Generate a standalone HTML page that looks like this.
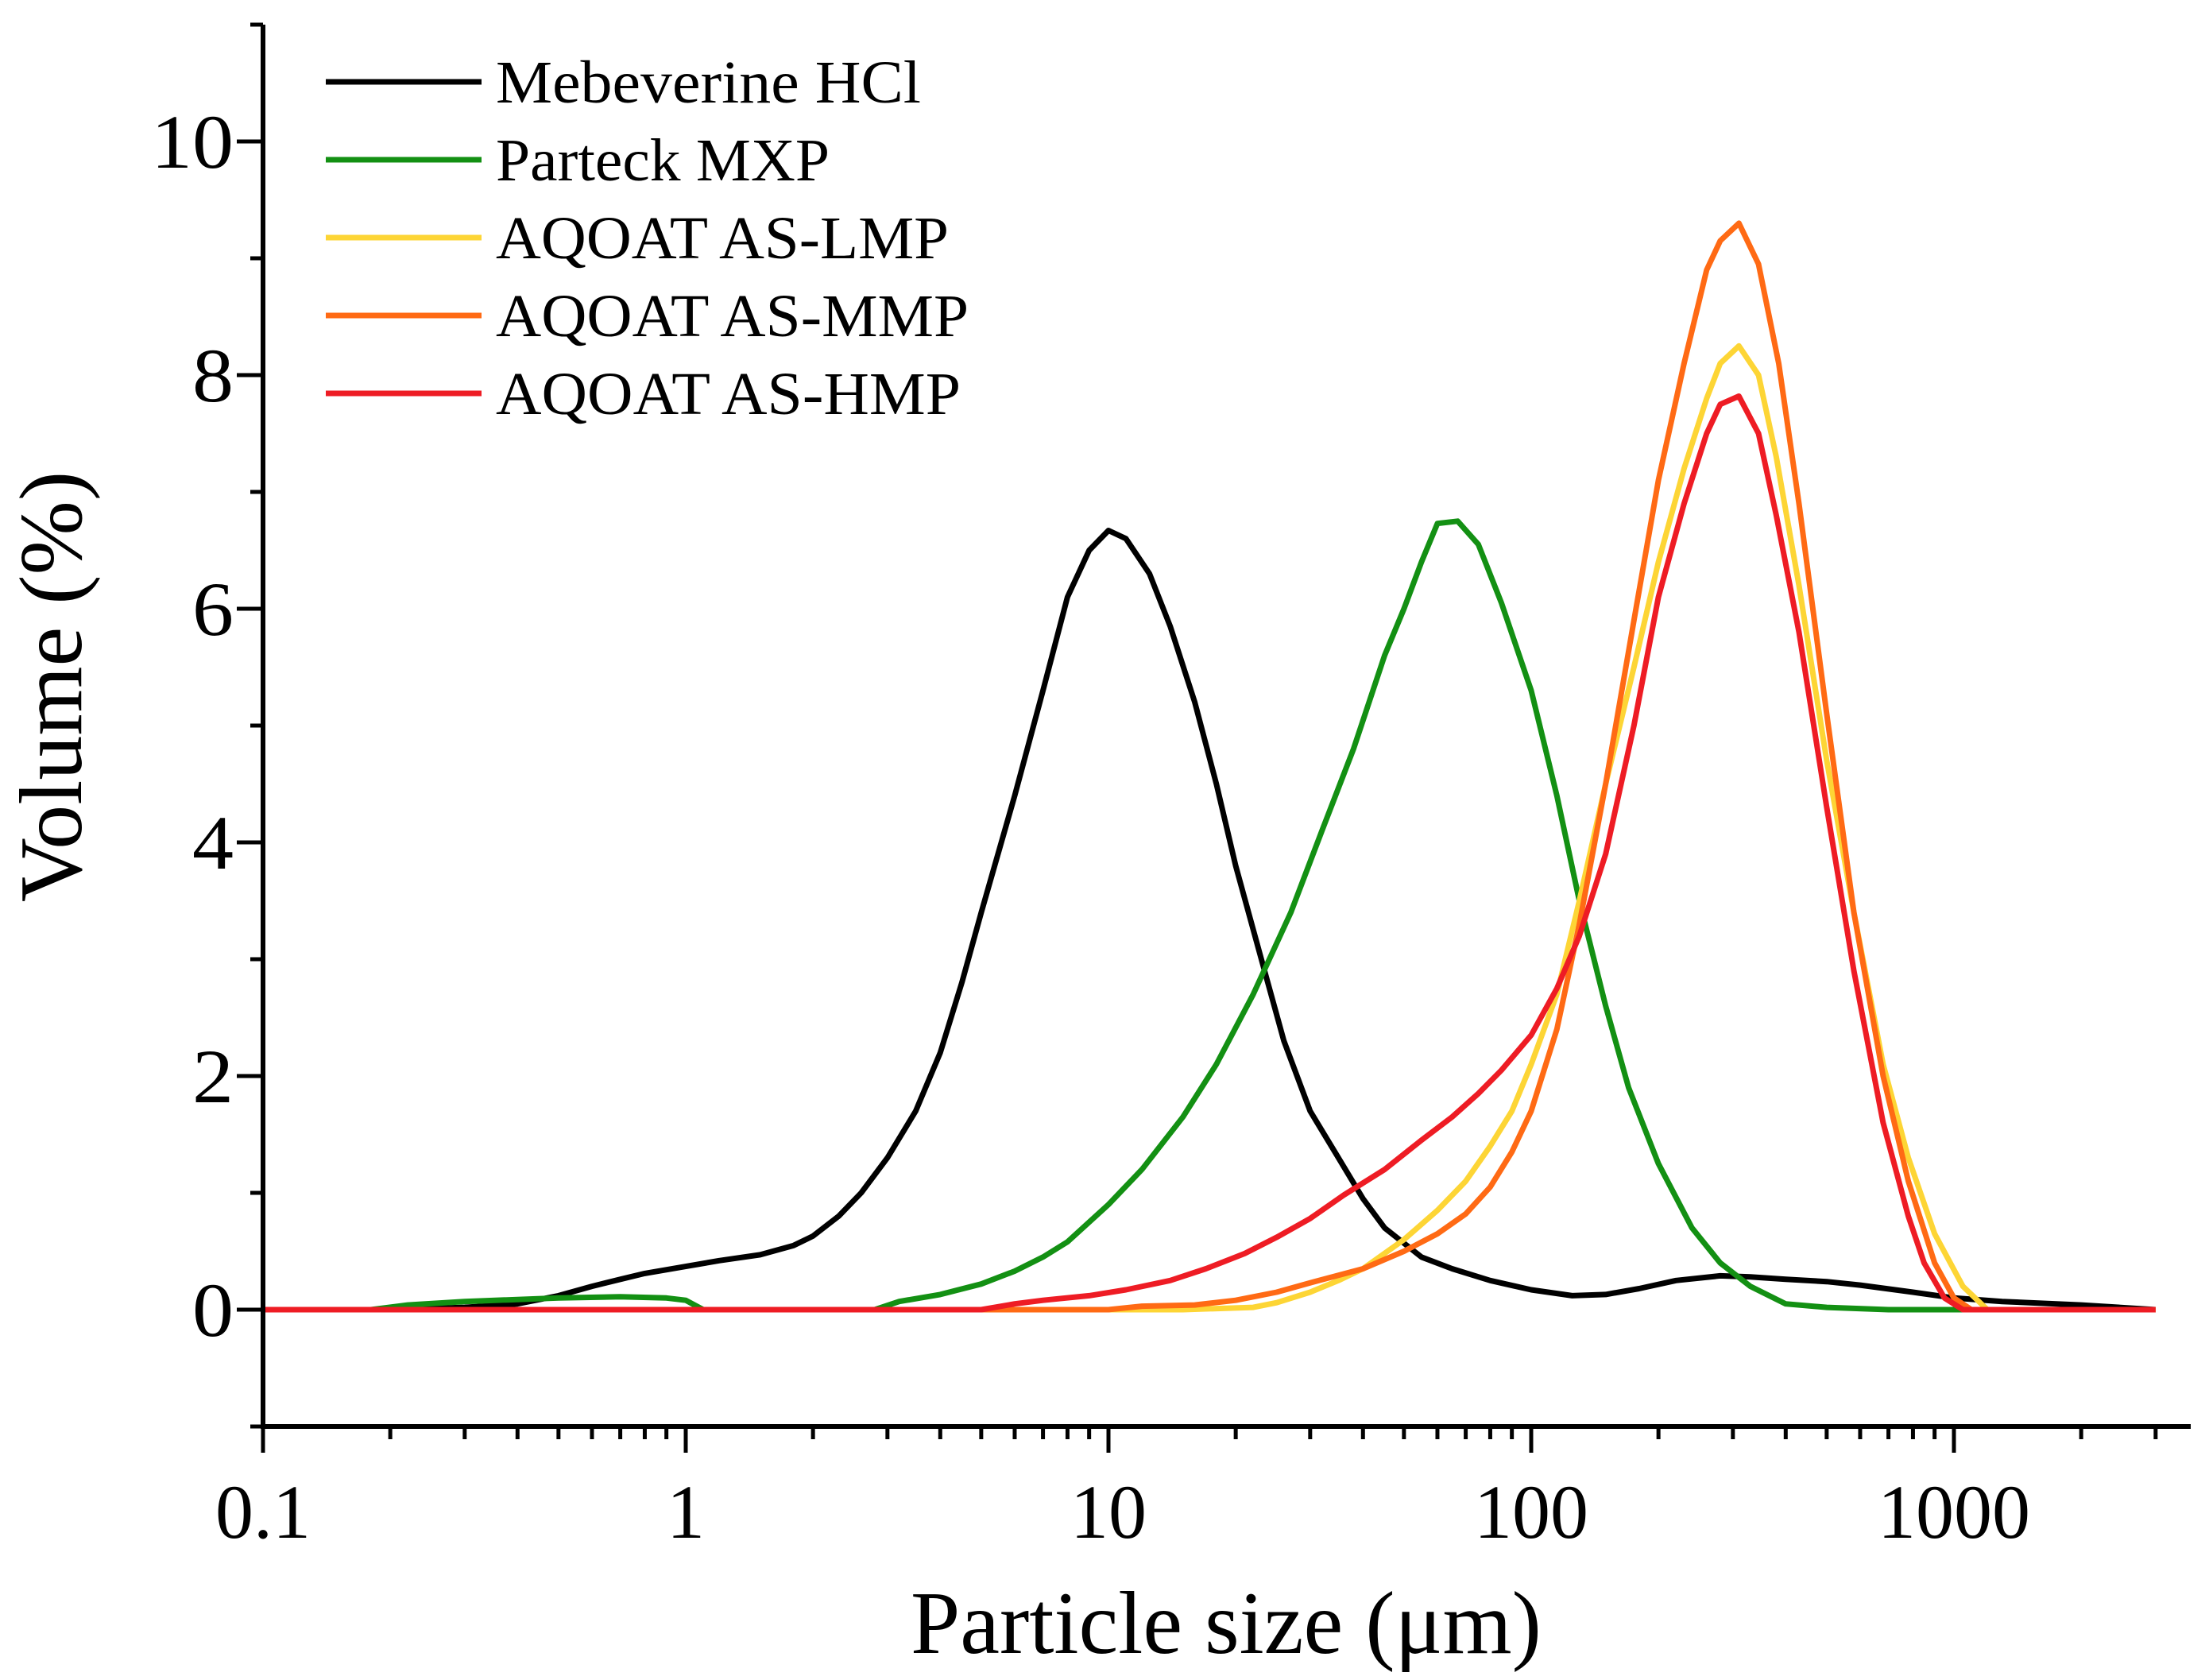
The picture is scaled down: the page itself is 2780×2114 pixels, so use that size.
<!DOCTYPE html>
<html><head><meta charset="utf-8"><style>
html,body{margin:0;padding:0;background:#fff}
svg{display:block}
text{font-family:"Liberation Serif",serif;fill:#000}
</style></head><body>
<svg id="chart" width="2780" height="2114" viewBox="0 0 2780 2114">
<g id="marks"></g>
<g id="axes"></g>
<g id="legend"></g>
</svg>
<script>
const seriesNames = ["Mebeverine HCl","Parteck MXP","AQOAT AS-LMP","AQOAT AS-MMP","AQOAT AS-HMP"];
const seriesColors = ["#000000","#139013","#fdd535","#ff6a14","#ee1c24"];
const xTickLabels = ["0.1","1","10","100","1000"];
const yTickLabels = ["0","2","4","6","8","10"];
const mebX = [0.1,0.2,0.3,0.4,0.5,0.6,0.7,0.8,1,1.2,1.5,1.8,2,2.3,2.6,3,3.5,4,4.5,5,6,7,8,9,10,11,12.5,14,16,18,20,23,26,30,35,40,45,55,65,80,100,125,150,180,220,280,330,400,500,600,800,1000,1300,2000,3000];
const mebY = [0,0,0.02,0.05,0.12,0.2,0.26,0.31,0.37,0.42,0.47,0.55,0.63,0.8,1.0,1.3,1.7,2.2,2.8,3.4,4.4,5.3,6.1,6.5,6.67,6.6,6.3,5.85,5.2,4.5,3.8,3.0,2.3,1.7,1.3,0.95,0.7,0.45,0.35,0.25,0.17,0.12,0.13,0.18,0.25,0.29,0.28,0.26,0.24,0.21,0.15,0.1,0.07,0.04,0];
const parX = [0.1,0.18,0.22,0.3,0.5,0.7,0.9,1.0,1.1,2.8,3.2,4,5,6,7,8,10,12,15,18,22,27,32,38,45,50,55,60,67,75,85,100,115,130,150,170,200,240,280,330,400,500,700,3000];
const parY = [0,0,0.04,0.07,0.1,0.11,0.1,0.08,0,0,0.07,0.13,0.22,0.33,0.45,0.58,0.9,1.2,1.65,2.1,2.7,3.4,4.1,4.8,5.6,6.0,6.4,6.73,6.75,6.55,6.05,5.3,4.4,3.5,2.6,1.9,1.25,0.7,0.4,0.2,0.05,0.02,0,0];
const lmpX = [0.1,15,22,25,30,35,40,50,60,70,80,90,100,115,130,150,175,200,230,260,280,310,345,380,430,500,580,680,780,900,1050,1200,3000];
const lmpY = [0,0,0.02,0.06,0.15,0.25,0.35,0.6,0.85,1.1,1.4,1.7,2.1,2.7,3.5,4.5,5.5,6.4,7.2,7.8,8.1,8.25,8.0,7.3,6.2,4.7,3.4,2.1,1.3,0.65,0.2,0,0];
const mmpX = [0.1,10,12,16,20,25,30,40,50,60,70,80,90,100,115,130,150,175,200,230,260,280,310,345,385,430,500,580,680,780,900,1000,1100,3000];
const mmpY = [0,0,0.03,0.04,0.08,0.15,0.23,0.35,0.5,0.65,0.82,1.05,1.35,1.7,2.4,3.3,4.5,5.9,7.1,8.1,8.9,9.15,9.3,8.95,8.1,6.9,5.1,3.4,2.0,1.1,0.4,0.1,0,0];
const hmpX = [0.1,5,6,7,9,11,14,17,21,25,30,36,45,55,65,75,85,100,115,130,150,175,200,230,260,280,310,345,380,430,500,580,680,780,850,950,1050,3000];
const hmpY = [0,0,0.05,0.08,0.12,0.17,0.25,0.35,0.48,0.62,0.78,0.98,1.2,1.45,1.65,1.85,2.05,2.35,2.75,3.2,3.9,5.0,6.1,6.9,7.5,7.75,7.82,7.5,6.8,5.8,4.3,2.9,1.6,0.8,0.4,0.1,0,0];
const allX = [mebX,parX,lmpX,mmpX,hmpX];
const allY = [mebY,parY,lmpY,mmpY,hmpY];

const NS="http://www.w3.org/2000/svg";
const X0=331,DEC=532,Y0=1648,UNIT=147,LEFT=331,RIGHT=2757,TOP=31,BOTTOM=1795;
function sx(v){return X0+(Math.log10(v)+1)*DEC;}
function sy(v){return Y0-v*UNIT;}
function mk(tag,attrs,parent){const e=document.createElementNS(NS,tag);for(const k in attrs)e.setAttribute(k,attrs[k]);parent.appendChild(e);return e;}
const marks=document.getElementById('marks'),axes=document.getElementById('axes'),legend=document.getElementById('legend');

allX.forEach((xs,i)=>{
  const d=xs.map((x,j)=>(j?'L':'M')+sx(x).toFixed(1)+' '+sy(allY[i][j]).toFixed(1)).join(' ');
  const p=mk('path',{d:d,fill:'none',stroke:seriesColors[i],'stroke-width':7,'stroke-linejoin':'round'},marks);
  
  
});

const ax=mk('path',{d:`M${LEFT} ${TOP} L${LEFT} ${BOTTOM+3} M${LEFT-3} ${BOTTOM} L${RIGHT} ${BOTTOM}`,stroke:'#000','stroke-width':6,fill:'none'},axes);



let tk='';
for(let e=-1;e<=3;e++){
  const base=Math.pow(10,e);
  tk+=`M${sx(base)} ${BOTTOM} L${sx(base)} ${BOTTOM+33} `;
  for(let m=2;m<=9;m++){const v=m*base;if(sx(v)<=RIGHT)tk+=`M${sx(v)} ${BOTTOM} L${sx(v)} ${BOTTOM+16} `;}
}
for(let v=-1;v<=11;v++){
  const len=(v%2===0)?33:16;
  tk+=`M${LEFT} ${sy(v)} L${LEFT-len} ${sy(v)} `;
}
const ticks=mk('path',{d:tk,stroke:'#000','stroke-width':5,fill:'none'},axes);



xTickLabels.forEach((t,i)=>{
  const el=mk('text',{x:sx(Math.pow(10,i-1)),y:1935,'font-size':96,'text-anchor':'middle'},axes);
  el.textContent=t;
  
  
});
yTickLabels.forEach((t,i)=>{
  const el=mk('text',{x:294,y:sy(i*2)+33,'font-size':96,'text-anchor':'end','textLength':t.length*52,'lengthAdjust':'spacingAndGlyphs'},axes);
  el.textContent=t;
  
  
});
const xt=mk('text',{x:1543,y:2080,'font-size':112,'text-anchor':'middle'},axes);
xt.textContent='Particle size (\u03bcm)';


const yt=mk('text',{x:0,y:0,'font-size':112,'text-anchor':'middle',transform:'translate(102 864) rotate(-90)'},axes);
yt.textContent='Volume (%)';



const legendLens=[535,420,570,595,585];
seriesNames.forEach((n,i)=>{
  const yy=103+i*98;
  const ln=mk('line',{x1:410,x2:606,y1:yy,y2:yy,stroke:seriesColors[i],'stroke-width':7},legend);
  
  
  const tx=mk('text',{x:624,y:yy+26,'font-size':76,'textLength':legendLens[i],'lengthAdjust':'spacingAndGlyphs'},legend);
  tx.textContent=n;
  
  
});
</script>
</body></html>
